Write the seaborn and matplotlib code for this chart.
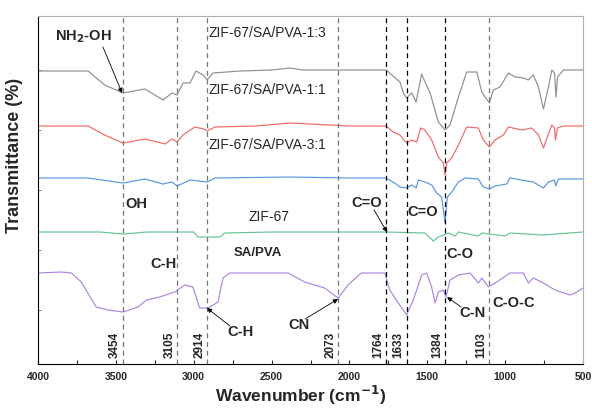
import seaborn as sns
import matplotlib.pyplot as plt
import pandas as pd

# wavenumber (cm-1) and offset transmittance (arbitrary units)
wn_13 = [4000, 3679, 3572, 3454, 3313, 3250, 3197, 3140, 3107, 3069, 3024, 2985, 2940, 2914, 2876,
         2700, 2500, 2382, 2300, 2000, 1800, 1764, 1720, 1675, 1654, 1633, 1600, 1572, 1536, 1515,
         1482, 1429, 1386, 1354, 1300, 1247, 1182, 1150, 1129, 1101, 1076, 1033, 979, 936, 883,
         851, 819, 786, 754, 722, 700, 683, 673, 664, 625, 500]
t_13 = [293, 293, 279, 271, 275, 269, 264, 271, 269, 281, 281, 293, 289, 284, 291,
        293, 294, 296, 294, 294, 294, 294, 288, 282, 271, 266, 271, 262, 290, 282,
        271, 242, 234, 239, 267, 292, 292, 272, 267, 261, 274, 277, 291, 287, 286,
        284, 289, 277, 255, 277, 294, 291, 267, 287, 294, 294]

wn_11 = [4000, 3679, 3572, 3454, 3313, 3184, 3140, 3107, 3069, 2993, 2934, 2914, 2863, 2600,
         2382, 2000, 1764, 1720, 1675, 1633, 1600, 1568, 1542, 1515, 1472, 1429, 1397, 1386,
         1375, 1343, 1300, 1247, 1172, 1140, 1101, 1065, 1011, 979, 893, 829, 786, 754, 729,
         700, 683, 677, 664, 625, 500]
t_11 = [238, 238, 229, 221, 225, 220, 225, 222, 229, 237, 235, 233, 237, 238,
        241, 238, 238, 232, 229, 221, 224, 222, 236, 234, 224, 207, 201, 189,
        201, 206, 219, 237, 236, 224, 217, 224, 229, 237, 234, 236, 229, 216, 227,
        239, 236, 224, 236, 238, 238]

wn_31 = [4000, 3679, 3454, 3313, 3197, 3140, 3107, 3024, 2914, 2863, 2382, 2000, 1764, 1700,
         1675, 1633, 1600, 1572, 1557, 1515, 1472, 1440, 1408, 1386, 1371, 1343, 1300, 1257,
         1172, 1140, 1101, 1065, 990, 969, 819, 754, 722, 683, 675, 658, 500]
t_31 = [186, 186, 181, 185, 180, 182, 178, 184, 182, 186, 187, 186, 186, 180,
        177, 176, 179, 176, 184, 182, 179, 171, 167, 141, 167, 172, 182, 186,
        185, 177, 175, 178, 180, 186, 182, 176, 182, 184, 178, 185, 185]

wn_zif = [4000, 3600, 3454, 3300, 3000, 2972, 2833, 2801, 2500, 2000, 1764, 1515, 1461, 1429,
          1397, 1365, 1322, 1300, 1172, 1150, 1001, 969, 754, 500]
t_zif = [132, 132, 130, 132, 132, 127, 127, 131, 132, 132, 132, 131, 123, 127,
         129, 131, 128, 132, 128, 131, 128, 131, 129, 132]

wn_sa = [4000, 3850, 3786, 3722, 3626, 3550, 3454, 3358, 3304, 3219, 3122, 3058, 3005, 2962,
         2908, 2844, 2812, 2769, 2600, 2394, 2287, 2159, 2073, 2009, 1924, 1773, 1741, 1699,
         1633, 1590, 1536, 1504, 1472, 1450, 1429, 1397, 1380, 1354, 1300, 1225, 1172, 1150,
         1108, 1054, 969, 883, 851, 819, 754, 679, 583, 540, 500]
t_sa = [91, 92, 91, 82, 57, 54, 52, 57, 64, 67, 72, 79, 77, 56,
        56, 62, 86, 91, 91, 91, 82, 76, 66, 79, 91, 91, 74, 64,
        49, 64, 89, 91, 77, 61, 72, 74, 67, 84, 89, 91, 81, 86,
        77, 82, 91, 91, 81, 86, 81, 74, 69, 72, 76]

peaks = [3454, 3105, 2914, 2073, 1764, 1633, 1384, 1103]
peak_colors = ["#777777", "#777777", "#777777", "#777777", "black", "black", "black", "#777777"]

curves = [
    (wn_13, t_13, "#8e8e8e"),
    (wn_11, t_11, "#f26868"),
    (wn_31, t_31, "#5696e3"),
    (wn_zif, t_zif, "#66c495"),
    (wn_sa, t_sa, "#ad85e3"),
]

sns.set_style("white")
plt.rcParams["font.family"] = ["Liberation Sans", "DejaVu Sans"]

fig = plt.figure(figsize=(5.92, 4.08), dpi=100)
ax = fig.add_axes([0.0642, 0.1078, 0.9206, 0.853])

for wn, t, c in curves:
    df = pd.DataFrame({"wn": wn, "t": t})
    sns.lineplot(data=df, x="wn", y="t", ax=ax, color=c, lw=0.85, sort=False)

for p, c in zip(peaks, peak_colors):
    ax.axvline(p, color=c, lw=0.9, ls=(0, (4, 3)))
    ax.text(p + 12, 19, str(p), rotation=90, ha="right", va="center",
            fontsize=8.5, fontweight="bold")

ax.set_xlim(4000, 500)
ax.set_ylim(0, 348)
ax.set_xticks(range(4000, 499, -500))
ax.set_xticks(range(3750, 500, -500), minor=True)
ax.set_yticks([54, 114, 174, 234, 294])
ax.set_yticklabels([])
ax.tick_params(axis="x", which="both", direction="in", bottom=True, top=False,
               labelsize=7.5, length=3, width=0.8, pad=6)
ax.tick_params(axis="y", direction="in", left=True, length=2.5, width=0.6, color="#666666")
for lab in ax.get_xticklabels():
    lab.set_fontweight("bold")
for s in ["left", "bottom"]:
    ax.spines[s].set_color("black")
for s in ["top", "right"]:
    ax.spines[s].set_color("#b0b0b0")

ax.set_xlabel("Wavenumber (cm$^{\\mathbf{-1}}$)", fontsize=12.5, fontweight="bold")
ax.xaxis.set_label_coords(0.482, -0.058)
ax.set_ylabel("Transmittance (%)", fontsize=13, fontweight="bold")
ax.yaxis.set_label_coords(-0.027, 0.598)

# sample names
for y, name in [(331, "ZIF-67/SA/PVA-1:3"), (274, "ZIF-67/SA/PVA-1:1"), (219, "ZIF-67/SA/PVA-3:1")]:
    ax.text(2908, y, name, ha="left", va="center", fontsize=10)
ax.text(2651, 147, "ZIF-67", ha="left", va="center", fontsize=10)
ax.text(2741, 111, "SA/PVA", ha="left", va="center", fontsize=9.5, fontweight="bold")

# band labels
bold = dict(ha="left", va="center", fontsize=10.5, fontweight="bold")
ax.text(3891, 327, "NH$_\\mathbf{2}$-OH", **bold)
ax.text(3441, 160, "OH", **bold)
ax.text(3281, 100, "C-H", **bold)
ax.text(2786, 32, "C-H", **bold)
ax.text(2394, 39, "CN", **bold)
ax.text(1990, 161, "C=O", **bold)
ax.text(1630, 152, "C=O", **bold)
ax.text(1380, 110, "C-O", **bold)
ax.text(1296, 51, "C-N", **bold)
ax.text(1084, 61, "C-O-C", **bold)

arrow = dict(arrowstyle="-|>", color="black", lw=0.6, mutation_scale=7, shrinkA=0, shrinkB=0)
ax.annotate("", xy=(3460, 271), xytext=(3583, 317), arrowprops=arrow)
ax.annotate("", xy=(2915, 56), xytext=(2767, 38), arrowprops=arrow)
ax.annotate("", xy=(2073, 65), xytext=(2285, 45), arrowprops=arrow)
ax.annotate("", xy=(1759, 132), xytext=(1842, 154), arrowprops=arrow)
ax.annotate("", xy=(1373, 67), xytext=(1283, 57), arrowprops=arrow)

fig.savefig("out.png", dpi=100)
